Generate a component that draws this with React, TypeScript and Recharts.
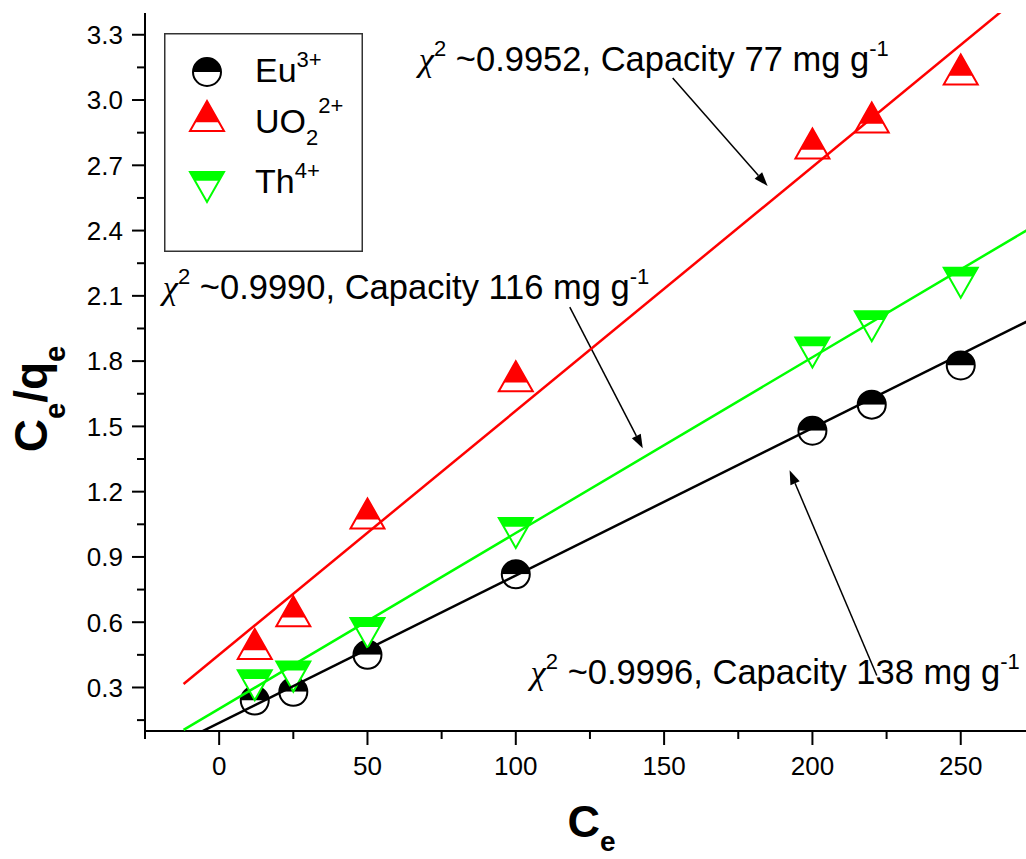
import {
  ComposedChart,
  Scatter,
  XAxis,
  YAxis,
  ReferenceLine,
  ReferenceDot,
  Legend,
  Label,
} from 'recharts';

// equilibrium concentration (x) and Ce/qe for each ion
const CE = [12, 25, 50, 100, 200, 220, 250];
const EU = [0.24, 0.28, 0.45, 0.82, 1.48, 1.6, 1.78];
const UO2 = [0.5, 0.65, 1.1, 1.73, 2.8, 2.92, 3.14];
const TH = [0.31, 0.35, 0.55, 1.01, 1.84, 1.96, 2.16];

// linear fit end points
const FIT_X = [-12, 280];
const FIT_EU = [0.056, 2.034];
const FIT_UO2 = [0.316, 3.59];
const FIT_TH = [0.105, 2.464];

const X_DOMAIN = [-25, 272];
const Y_DOMAIN = [0.1, 3.4];
const X_MAJOR = [0, 50, 100, 150, 200, 250];
const X_MINOR = [-25, 25, 75, 125, 175, 225];
const Y_MAJOR = [0.3, 0.6, 0.9, 1.2, 1.5, 1.8, 2.1, 2.4, 2.7, 3.0, 3.3];
const Y_MINOR = [0.15, 0.45, 0.75, 1.05, 1.35, 1.65, 1.95, 2.25, 2.55, 2.85, 3.15];

// annotations: [chi2, capacity], text anchor and arrow (tail -> head) in data units
const NOTES = [
  { chi: '0.9952', cap: '77', tx: 67.3, ty: 3.135, ax: [152.9, 3.101], ah: [184.9, 2.605] },
  { chi: '0.9990', cap: '116', tx: -19.0, ty: 2.085, ax: [118.2, 2.048], ah: [142.8, 1.399] },
  { chi: '0.9996', cap: '138', tx: 105.0, ty: 0.318, ax: [221.7, 0.355], ah: [192.3, 1.298] },
];

const FONT = "'Liberation Sans', Arial, sans-serif";
const RED = '#FF0000';
const GREEN = '#00FF00';

const pts = (ys: number[]) => CE.map((x, i) => ({ x, y: ys[i] }));
const fit = (ys: number[]) => FIT_X.map((x, i) => ({ x, y: ys[i] }));

const HalfCircle = ({ cx, cy }: any) => {
  const r = 14;
  return (
    <g>
      <path d={`M${cx - r},${cy} A${r},${r} 0 0 1 ${cx + r},${cy} Z`} fill="#000" />
      <path d={`M${cx - r},${cy} A${r},${r} 0 0 0 ${cx + r},${cy} Z`} fill="#fff" />
      <circle cx={cx} cy={cy} r={r} fill="none" stroke="#000" strokeWidth={2} />
    </g>
  );
};

const HalfUp = ({ cx, cy }: any) => {
  const w = 17, h = 15, sy = cy + 6.2, sw = 12;
  return (
    <g>
      <polygon points={`${cx},${cy - h} ${cx + w},${cy + h} ${cx - w},${cy + h}`} fill="#fff" />
      <polygon points={`${cx},${cy - h} ${cx + sw},${sy} ${cx - sw},${sy}`} fill={RED} />
      <polygon points={`${cx},${cy - h} ${cx + w},${cy + h} ${cx - w},${cy + h}`} fill="none" stroke={RED} strokeWidth={2} />
    </g>
  );
};

const HalfDown = ({ cx, cy }: any) => {
  const w = 17, h = 15, sy = cy - 6.2, sw = 12;
  return (
    <g>
      <polygon points={`${cx - w},${cy - h} ${cx + w},${cy - h} ${cx},${cy + h}`} fill="#fff" />
      <polygon points={`${cx - w},${cy - h} ${cx + w},${cy - h} ${cx + sw},${sy} ${cx - sw},${sy}`} fill={GREEN} />
      <polygon points={`${cx - w},${cy - h} ${cx + w},${cy - h} ${cx},${cy + h}`} fill="none" stroke={GREEN} strokeWidth={2} />
    </g>
  );
};

const NoMark = () => <g />;

const XTick = ({ x, y, payload }: any) => {
  const v = payload.value;
  const major = X_MAJOR.includes(v);
  return (
    <g>
      <line x1={x} y1={y} x2={x} y2={y + (major ? 14 : 8)} stroke="#000" strokeWidth={2} />
      {major && (
        <text x={x} y={y + 44} textAnchor="middle" fontFamily={FONT} fontSize={26} fill="#000">
          {v}
        </text>
      )}
    </g>
  );
};

const YTick = ({ x, y, payload }: any) => {
  const v = payload.value;
  const major = Y_MAJOR.includes(v);
  return (
    <g>
      <line x1={x - (major ? 13 : 8)} y1={y} x2={x} y2={y} stroke="#000" strokeWidth={2} />
      {major && (
        <text x={x - 22} y={y} dy="0.36em" textAnchor="end" fontFamily={FONT} fontSize={26} fill="#000">
          {v.toFixed(1)}
        </text>
      )}
    </g>
  );
};

const XTitle = ({ viewBox }: any) => (
  <text x={viewBox.x + viewBox.width / 2 - 18} y={viewBox.y + 106} fontFamily={FONT} fontWeight="bold" fontSize={45} fill="#000">
    C<tspan fontSize={28} dy={14}>e</tspan>
  </text>
);

const YTitle = ({ viewBox }: any) => {
  const x = viewBox.x + 47;
  const y = viewBox.y + 386;
  return (
    <text x={x} y={y} transform={`rotate(-90 ${x} ${y})`} textAnchor="middle" fontFamily={FONT} fontWeight="bold" fontSize={46} fill="#000">
      C<tspan fontSize={29} dy={18}>e</tspan>
      <tspan dy={-18}>/q</tspan>
      <tspan fontSize={29} dy={18}>e</tspan>
    </text>
  );
};

const Arrow = ({ x1, y1, x2, y2 }: any) => {
  const a = Math.atan2(y2 - y1, x2 - x1);
  const c = Math.cos(a), s = Math.sin(a);
  const bx = x2 - 14 * c, by = y2 - 14 * s;
  return (
    <g>
      <line x1={x1} y1={y1} x2={bx} y2={by} stroke="#000" strokeWidth={1.5} />
      <polygon points={`${x2},${y2} ${bx - 5 * s},${by + 5 * c} ${bx + 5 * s},${by - 5 * c}`} fill="#000" />
    </g>
  );
};

const noteText = (chi: string, cap: string) => ({ cx, cy }: any) => (
  <text x={cx} y={cy} fontFamily={FONT} fontSize={34.5} fill="#000">
    <tspan fontFamily="'Liberation Serif', serif" fontStyle="italic">χ</tspan>
    <tspan fontSize={22} dy={-15}>2</tspan>
    <tspan dy={15}>{` ~${chi}, Capacity ${cap} mg g`}</tspan>
    <tspan fontSize={22} dy={-15}>-1</tspan>
  </text>
);

const LegendBox = () => (
  <svg width={199} height={219} style={{ display: 'block' }}>
    <rect x={0.75} y={0.75} width={197.5} height={217.5} fill="#fff" stroke="#333" strokeWidth={1.5} />
    <HalfCircle cx={43} cy={39} />
    <HalfUp cx={43} cy={83} />
    <HalfDown cx={43} cy={154} />
    <text x={91} y={49} fontFamily={FONT} fontSize={34} fill="#000">
      Eu<tspan fontSize={22} dy={-15}>3+</tspan>
    </text>
    <text x={91} y={100} fontFamily={FONT} fontSize={34} fill="#000">
      UO<tspan fontSize={22} dy={12}>2</tspan>
      <tspan fontSize={22} dy={-32}>2+</tspan>
    </text>
    <text x={91} y={160} fontFamily={FONT} fontSize={34} fill="#000">
      Th<tspan fontSize={22} dy={-15}>4+</tspan>
    </text>
  </svg>
);

export default function App() {
  return (
    <div style={{ position: 'absolute', left: 0, top: 0, width: 1026, height: 859, background: '#fff' }}>
      <ComposedChart width={1026} height={859} margin={{ top: 13, right: 0, bottom: 0, left: 0 }}>
        <XAxis
          dataKey="x"
          type="number"
          domain={X_DOMAIN}
          allowDataOverflow
          ticks={[...X_MINOR, ...X_MAJOR].sort((a, b) => a - b)}
          interval={0}
          tick={<XTick />}
          tickLine={false}
          tickSize={0}
          tickMargin={0}
          height={128}
          axisLine={{ stroke: '#000', strokeWidth: 2 }}
          label={<Label content={XTitle} />}
        />
        <XAxis
          xAxisId="top"
          orientation="top"
          type="number"
          domain={X_DOMAIN}
          allowDataOverflow
          height={0}
          tick={false}
          tickLine={false}
          axisLine={{ stroke: '#000', strokeWidth: 2 }}
        />
        <YAxis
          dataKey="y"
          type="number"
          domain={Y_DOMAIN}
          allowDataOverflow
          ticks={[...Y_MINOR, ...Y_MAJOR].sort((a, b) => a - b)}
          interval={0}
          tick={<YTick />}
          tickLine={false}
          tickSize={0}
          tickMargin={0}
          width={145}
          axisLine={{ stroke: '#000', strokeWidth: 2 }}
          label={<Label content={YTitle} />}
        />
        <Legend
          layout="horizontal"
          align="center"
          verticalAlign="middle"
          content={() => <LegendBox />}
          wrapperStyle={{ position: 'absolute', left: 164, top: 33, width: 199, height: 219, margin: 0 }}
        />
        <Scatter name="Eu" data={pts(EU)} fill="#000" shape={HalfCircle} isAnimationActive={false} />
        <Scatter name="UO2" data={pts(UO2)} fill={RED} shape={HalfUp} isAnimationActive={false} />
        <Scatter name="Th" data={pts(TH)} fill={GREEN} shape={HalfDown} isAnimationActive={false} />
        <Scatter data={fit(FIT_UO2)} line={{ stroke: RED, strokeWidth: 2.5 }} shape={NoMark} legendType="none" isAnimationActive={false} />
        <Scatter data={fit(FIT_TH)} line={{ stroke: GREEN, strokeWidth: 2.5 }} shape={NoMark} legendType="none" isAnimationActive={false} />
        <Scatter data={fit(FIT_EU)} line={{ stroke: '#000', strokeWidth: 2.5 }} shape={NoMark} legendType="none" isAnimationActive={false} />
        {NOTES.map((n, i) => (
          <ReferenceLine
            key={`arrow-${i}`}
            segment={[{ x: n.ax[0], y: n.ax[1] }, { x: n.ah[0], y: n.ah[1] }]}
            shape={Arrow}
          />
        ))}
        {NOTES.map((n, i) => (
          <ReferenceDot key={`note-${i}`} x={n.tx} y={n.ty} r={0} ifOverflow="visible" shape={noteText(n.chi, n.cap)} />
        ))}
      </ComposedChart>
    </div>
  );
}
